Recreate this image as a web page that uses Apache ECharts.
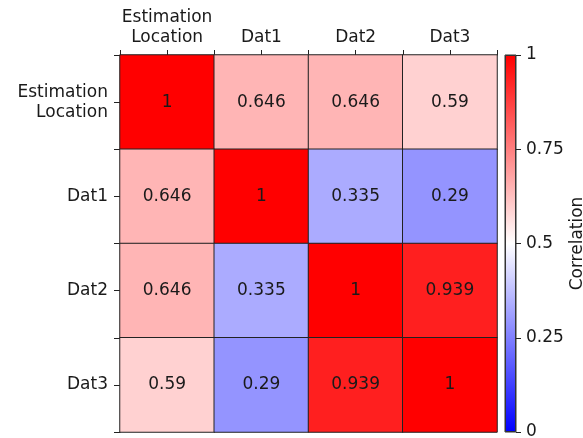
<!DOCTYPE html>
<html>
<head>
<meta charset="utf-8">
<script src="https://cdn.jsdelivr.net/npm/echarts@6/dist/echarts.min.js"></script>
<style>
  html, body { margin: 0; padding: 0; background: #fff; }
  #chart { width: 583px; height: 438px; }
</style>
</head>
<body>
<div id="chart"></div>
<script>
// Variables compared in the correlation matrix
const categories = ['Estimation\nLocation', 'Dat1', 'Dat2', 'Dat3'];

// Correlation values, one row per variable
const rowEstimation = [1, 0.646, 0.646, 0.59];
const rowDat1 = [0.646, 1, 0.335, 0.29];
const rowDat2 = [0.646, 0.335, 1, 0.939];
const rowDat3 = [0.59, 0.29, 0.939, 1];
const matrix = [rowEstimation, rowDat1, rowDat2, rowDat3];

// Colour bar scale
const colorMin = 0;
const colorMax = 1;
const colorTickStep = 0.25;
const colorBarValue = [colorMax];

const heatData = [];
matrix.forEach((row, yi) => {
  row.forEach((v, xi) => heatData.push([xi, yi, v]));
});

const FONT = 'DejaVu Sans';
const TXT = '#1a1a1a';
const bwr = ['#0000ff', '#ffffff', '#ff0000'];

const chart = echarts.init(document.getElementById('chart'), null, { renderer: 'canvas' });

const catAxisBase = {
  type: 'category',
  data: categories,
  gridIndex: 0,
  splitLine: { show: false },
  splitArea: { show: false }
};

chart.setOption({
  animation: false,
  backgroundColor: '#fff',
  grid: [
    { left: 120, top: 55, width: 377, height: 377, containLabel: false, outerBoundsMode: 'none' },
    { left: 505, top: 55, width: 11, height: 377, show: true, outerBoundsMode: 'none',
      borderColor: '#333', borderWidth: 1, backgroundColor: 'transparent' }
  ],
  xAxis: [
    Object.assign({}, catAxisBase, {
      position: 'top',
      axisLine: { show: true, lineStyle: { color: '#222', width: 1 } },
      axisTick: { show: true, alignWithLabel: true, length: 5, lineStyle: { color: '#222' } },
      axisLabel: { color: TXT, fontFamily: FONT, fontSize: 17, margin: 7, lineHeight: 20, interval: 0 }
    }),
    Object.assign({}, catAxisBase, {
      position: 'top',
      axisLine: { show: false },
      axisTick: { show: true, alignWithLabel: false, length: 5, lineStyle: { color: '#222' } },
      axisLabel: { show: false }
    }),
    { type: 'category', data: ['c'], gridIndex: 1, show: false, boundaryGap: true }
  ],
  yAxis: [
    Object.assign({}, catAxisBase, {
      inverse: true,
      position: 'left',
      axisLine: { show: true, lineStyle: { color: '#222', width: 1 } },
      axisTick: { show: true, alignWithLabel: true, length: 6, lineStyle: { color: '#222' } },
      axisLabel: { color: TXT, fontFamily: FONT, fontSize: 17, margin: 12, lineHeight: 20, interval: 0, align: 'right' }
    }),
    Object.assign({}, catAxisBase, {
      inverse: true,
      position: 'left',
      axisLine: { show: false },
      axisTick: { show: true, alignWithLabel: false, length: 6, lineStyle: { color: '#222' } },
      axisLabel: { show: false }
    }),
    {
      type: 'value', gridIndex: 1, position: 'right',
      min: colorMin, max: colorMax, interval: colorTickStep,
      axisLine: { show: false },
      axisTick: { show: true, length: 5, lineStyle: { color: '#222' } },
      axisLabel: { color: TXT, fontFamily: FONT, fontSize: 17, margin: 10,
        formatter: v => String(Math.round(v * 100) / 100) },
      splitLine: { show: false },
      name: 'Correlation',
      nameLocation: 'middle',
      nameRotate: 90,
      nameGap: 53,
      nameMoveOverlap: false,
      nameTextStyle: { color: TXT, fontFamily: FONT, fontSize: 17 }
    }
  ],
  visualMap: {
    show: false,
    type: 'continuous',
    seriesIndex: 0,
    min: colorMin,
    max: colorMax,
    inRange: { color: bwr }
  },
  series: [
    {
      type: 'heatmap',
      xAxisIndex: 0,
      yAxisIndex: 0,
      data: heatData,
      itemStyle: { borderColor: '#222', borderWidth: 1 },
      label: {
        show: true,
        color: TXT,
        fontFamily: FONT,
        fontSize: 17,
        formatter: p => String(p.value[2])
      },
      emphasis: { disabled: true }
    },
    {
      type: 'bar',
      xAxisIndex: 2,
      yAxisIndex: 2,
      data: colorBarValue,
      barWidth: 11,
      silent: true,
      itemStyle: {
        borderColor: '#333',
        borderWidth: 1,
        color: new echarts.graphic.LinearGradient(0, 1, 0, 0, [
          { offset: 0, color: bwr[0] },
          { offset: 0.5, color: bwr[1] },
          { offset: 1, color: bwr[2] }
        ])
      }
    }
  ]
});
</script>
</body>
</html>
